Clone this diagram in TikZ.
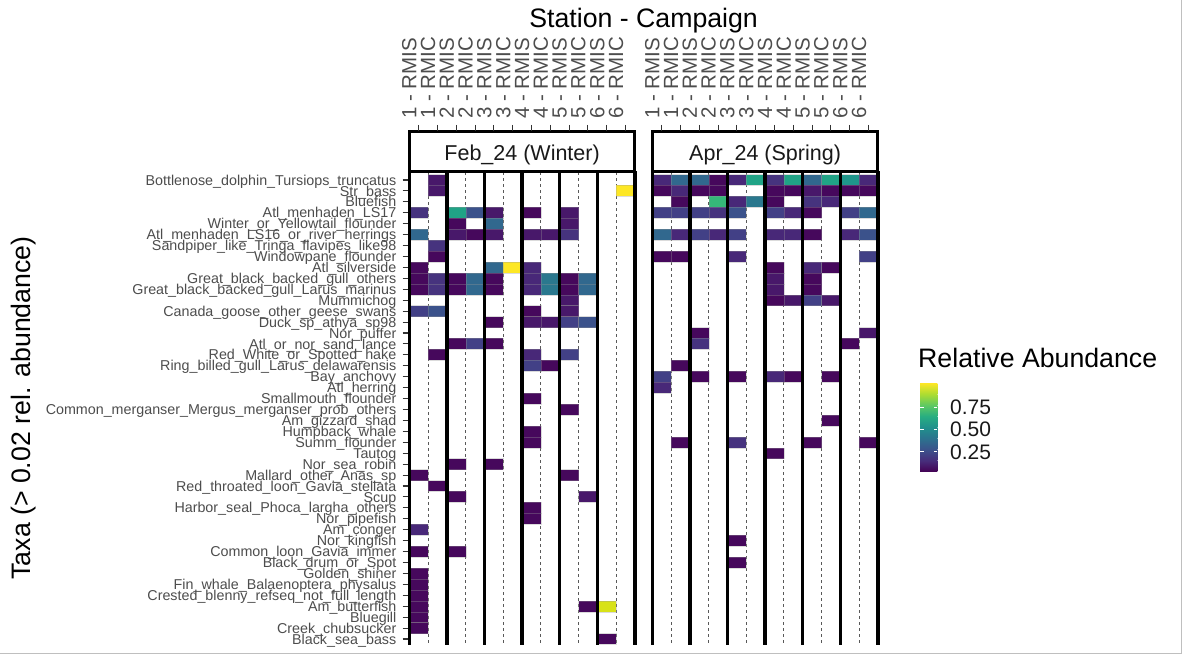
\documentclass[tikz,border=0pt]{standalone}
\usepackage{fontspec}
\setmainfont{Liberation Sans}
\definecolor{vD}{HTML}{46085C}
\definecolor{vV}{HTML}{48186A}
\definecolor{vP}{HTML}{482878}
\definecolor{vQ}{HTML}{46337E}
\definecolor{vR}{HTML}{424086}
\definecolor{vS}{HTML}{3B528B}
\definecolor{vB}{HTML}{31688E}
\definecolor{vT}{HTML}{2A788E}
\definecolor{vU}{HTML}{1F968B}
\definecolor{vG}{HTML}{20A386}
\definecolor{vH}{HTML}{35B779}
\definecolor{vY}{HTML}{FDE725}
\definecolor{vZ}{HTML}{D8E219}
\definecolor{axgray}{HTML}{4D4D4D}
\definecolor{vir0}{HTML}{440154}
\definecolor{vir1}{HTML}{472D7B}
\definecolor{vir2}{HTML}{3B528B}
\definecolor{vir3}{HTML}{2C728E}
\definecolor{vir4}{HTML}{21908C}
\definecolor{vir5}{HTML}{27AD81}
\definecolor{vir6}{HTML}{5DC863}
\definecolor{vir7}{HTML}{AADC32}
\definecolor{vir8}{HTML}{FDE725}
\tikzset{
  rowlab/.style={anchor=base east, inner sep=0pt, text=axgray, font=\fontsize{14.3}{14.3}\selectfont},
  collab/.style={anchor=west, rotate=90, inner sep=0pt, text=axgray, font=\fontsize{20.5}{20.5}\selectfont},
  bigtitle/.style={inner sep=0pt, text=black, font=\fontsize{26.7}{28}\selectfont},
  striptext/.style={anchor=base, inner sep=0pt, text=black!90, font=\fontsize{21.5}{22}\selectfont},
  leglab/.style={anchor=base west, inner sep=0pt, text=black!90, font=\fontsize{21}{22}\selectfont},
  thickline/.style={line width=3.5pt, black},
  dashline/.style={line width=1pt, black!65, dash pattern=on 3.3pt off 2.7pt},
  axtick/.style={line width=1.1pt, black!80},
  stripbox/.style={line width=3pt, black, fill=white}
}
\begin{document}
\begin{tikzpicture}[x=1pt,y=-1pt]
\useasboundingbox (0,0) rectangle (1186,658);
\fill[white] (0,0) rectangle (1186,658);
\draw[black!25, line width=1pt] (1181,0) -- (1181,653) -- (0,653);
% dashed lines
\foreach \px in {409.3,652.3}{
  \foreach \k in {0,...,5}{
    \draw[dashline] ({\px+18.8+\k*37.6},172) -- ({\px+18.8+\k*37.6},644.5);
  }
}
% cells
\foreach \rr/\cc/\kk in {
0/2/V, 0/13/P, 0/14/B, 0/15/B, 0/16/D, 0/17/P, 0/18/G, 0/19/Q, 0/20/G, 0/21/B, 0/22/G, 0/23/U, 0/24/P,
1/2/V, 1/12/Y, 1/13/D, 1/14/P, 1/15/D, 1/16/D, 1/19/D, 1/20/D, 1/21/V, 1/22/D, 1/23/D, 1/24/D,
2/14/D, 2/16/H, 2/17/P, 2/18/T, 2/19/D, 2/21/Q, 2/22/P,
3/1/Q, 3/3/G, 3/4/S, 3/5/V, 3/7/D, 3/9/V, 3/13/R, 3/14/R, 3/15/R, 3/16/Q, 3/17/S, 3/19/R, 3/20/P, 3/21/D, 3/23/R, 3/24/B,
4/3/D, 4/5/B, 4/9/V,
5/1/B, 5/3/V, 5/4/D, 5/5/V, 5/7/V, 5/8/V, 5/9/Q, 5/13/B, 5/14/P, 5/15/R, 5/16/P, 5/17/R, 5/19/P, 5/20/P, 5/21/D, 5/23/P, 5/24/S,
6/2/Q,
7/2/D, 7/13/D, 7/14/D, 7/17/P, 7/24/R,
8/1/D, 8/5/B, 8/6/Y, 8/7/P, 8/19/D, 8/21/P, 8/22/D,
9/1/D, 9/2/Q, 9/3/D, 9/4/B, 9/5/D, 9/7/P, 9/8/T, 9/9/D, 9/10/B, 9/19/V, 9/21/D,
10/1/D, 10/2/Q, 10/3/D, 10/4/B, 10/5/D, 10/7/P, 10/8/T, 10/9/D, 10/10/B, 10/19/V, 10/21/D,
11/9/V, 11/19/D, 11/20/V, 11/21/R, 11/22/V,
12/1/R, 12/2/S, 12/7/D, 12/9/V,
13/5/D, 13/7/V, 13/8/V, 13/9/R, 13/10/S,
14/15/D, 14/24/V,
15/3/D, 15/4/R, 15/5/D, 15/15/Q, 15/23/D,
16/2/D, 16/7/P, 16/9/R,
17/7/R, 17/8/D, 17/14/D,
18/13/R, 18/15/D, 18/17/D, 18/19/P, 18/20/D, 18/22/D,
19/13/P,
20/7/D, 21/9/D, 22/22/D, 23/7/D,
24/7/D, 24/14/D, 24/17/Q, 24/21/D, 24/24/D,
25/19/D,
26/3/D, 26/5/D,
27/1/D, 27/9/D,
28/2/D,
29/3/D, 29/10/V,
30/7/D, 31/7/D, 32/1/P, 33/17/D, 34/1/D, 34/3/D, 35/17/D,
36/1/D, 37/1/D, 38/1/D, 39/1/D, 39/10/D, 39/11/Z, 40/1/D, 41/1/D, 42/11/D}{
  \pgfmathsetmacro{\xl}{\cc<13 ? 409.3+(\cc-1)*18.8 : 652.3+(\cc-13)*18.8}
  \pgfmathsetmacro{\yt}{174.5+\rr*10.93}
  \fill[v\kk, draw=black!40, draw opacity=0.35, line width=0.4pt] (\xl,\yt) rectangle ++(18.8,10.93);
}
% thick station lines
\foreach \px in {409.3,652.3}{
  \foreach \k in {0,...,6}{
    \draw[thickline] ({\px+\k*37.6},171) -- ({\px+\k*37.6},644.5);
  }
}
% strips
\draw[stripbox] (409.3,131.5) rectangle (634.9,171);
\draw[stripbox] (652.3,131.5) rectangle (877.9,171);
\node[striptext] (stripA) at (522.1,160.8) {Feb\_24 (Winter)};
\node[striptext] (stripB) at (765.1,160.8) {Apr\_24 (Spring)};
% column labels and ticks
\foreach \px/\pn in {409.3/A,652.3/B}{
  \foreach \i in {1,...,12}{
    \pgfmathtruncatemacro{\st}{(\i+1)/2}
    \pgfmathsetmacro{\cx}{\px+(\i-0.5)*18.8}
    \ifodd\i \def\suf{RMIS}\else\def\suf{RMIC}\fi
    \node[collab] (col\pn\i) at (\cx-9.5,119) {{\st} - \suf};
    \draw[axtick] (\cx,125) -- (\cx,131);
  }
}
% row ticks and labels
\foreach \i/\t in {
0/Bottlenose\_dolphin\_Tursiops\_truncatus,
1/Str\_bass,
2/Bluefish,
3/Atl\_menhaden\_LS17,
4/Winter\_or\_Yellowtail\_flounder,
5/Atl\_menhaden\_LS16\_or\_river\_herrings,
6/Sandpiper\_like\_Tringa\_flavipes\_like98,
7/Windowpane\_flounder,
8/Atl\_silverside,
9/Great\_black\_backed\_gull\_others,
10/Great\_black\_backed\_gull\_Larus\_marinus,
11/Mummichog,
12/Canada\_goose\_other\_geese\_swans,
13/Duck\_sp\_athya\_sp98,
14/Nor\_puffer,
15/Atl\_or\_nor\_sand\_lance,
16/Red\_White\_or\_Spotted\_hake,
17/Ring\_billed\_gull\_Larus\_delawarensis,
18/Bay\_anchovy,
19/Atl\_herring,
20/Smallmouth\_flounder,
21/Common\_merganser\_Mergus\_merganser\_prob\_others,
22/Am\_gizzard\_shad,
23/Humpback\_whale,
24/Summ\_flounder,
25/Tautog,
26/Nor\_sea\_robin,
27/Mallard\_other\_Anas\_sp,
28/Red\_throated\_loon\_Gavia\_stellata,
29/Scup,
30/Harbor\_seal\_Phoca\_largha\_others,
31/Nor\_pipefish,
32/Am\_conger,
33/Nor\_kingfish,
34/Common\_loon\_Gavia\_immer,
35/Black\_drum\_or\_Spot,
36/Golden\_shiner,
37/Fin\_whale\_Balaenoptera\_physalus,
38/Crested\_blenny\_refseq\_not\_full\_length,
39/Am\_butterfish,
40/Bluegill,
41/Creek\_chubsucker,
42/Black\_sea\_bass}{
  \pgfmathsetmacro{\yc}{179.97+\i*10.93}
  \draw[axtick] (402.5,\yc) -- (407.5,\yc);
  \node[rowlab] (row\i) at (396.5,\yc+5.1) {\t};
}
% titles
\node[bigtitle, anchor=base] (xtitle) at (643.6,27.3) {Station - Campaign};
\node[bigtitle, anchor=base, rotate=90] (ytitle) at (30,408) {Taxa (> 0.02 rel. abundance)};
% legend
\node[bigtitle, anchor=base west] (legtitle) at (918,367.3) {Relative Abundance};
\foreach \j [evaluate=\j as \jn using int(\j+1)] in {0,...,7}{
  \shade[bottom color=vir\j, top color=vir\jn] (920,{471.7-\j*11.05}) rectangle (937.3,{471.7-(\j+1)*11.05+0.01});
}
\foreach \v/\yy/\lab in {0.75/407.3/0.75, 0.50/429/0.50, 0.25/451.7/0.25}{
  \draw[white, line width=0.8pt] (920,\yy) -- (923.5,\yy);
  \draw[white, line width=0.8pt] (933.8,\yy) -- (937.3,\yy);
  \node[leglab] (leg\lab) at (950,\yy+7.5) {\lab};
}
\end{tikzpicture}
\end{document}
